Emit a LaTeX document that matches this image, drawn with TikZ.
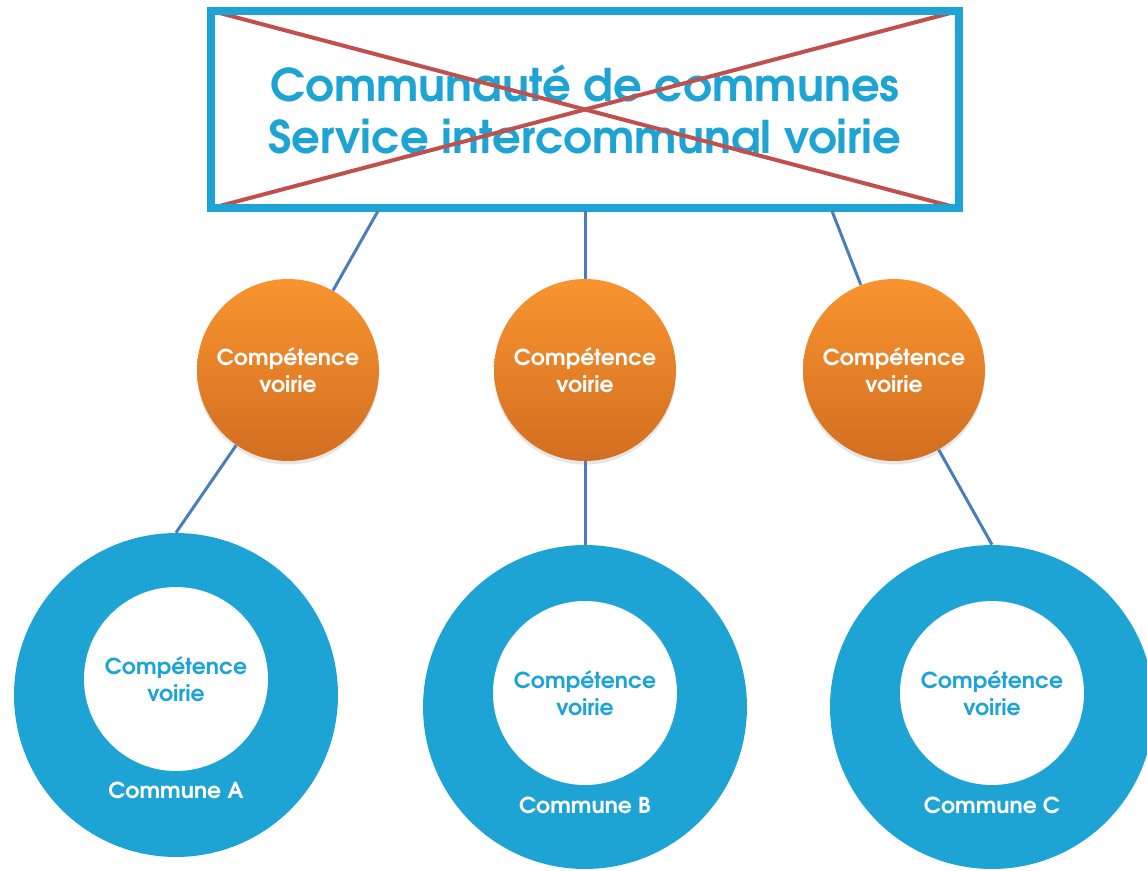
\documentclass[tikz,border=0pt]{standalone}
\usepackage{fontspec}
\setmainfont{TeX Gyre Adventor}
\usepackage{tikz}
\usepackage{xcolor}
\usetikzlibrary{shapes.geometric, shadows, positioning}
\definecolor{voirieblue}{RGB}{29,164,212}
\definecolor{crossred}{RGB}{192,80,77}
\definecolor{linkblue}{RGB}{74,126,187}
\definecolor{orangetop}{RGB}{249,148,48}
\definecolor{orangebot}{RGB}{210,110,32}
\tikzstyle{titlebox} = [rectangle, 
minimum width=14.96cm, 
minimum height=3.94cm, inner sep=0pt, 
align=center, text=voirieblue, 
font=\fontsize{25.6}{29.6}\selectfont\bfseries]
\tikzstyle{frame} = [draw=voirieblue, line width=0.16cm]
\tikzstyle{cross} = [draw=crossred, line width=0.08cm]
\tikzstyle{skill} = [circle, minimum size=3.64cm, inner sep=0pt,
top color=orangetop, bottom color=orangebot,
drop shadow={shadow xshift=0pt, shadow yshift=-2pt, opacity=0.2},
text=white, align=center, font=\fontsize{12.5}{15.4}\selectfont\bfseries]
\tikzstyle{ring} = [circle, minimum size=6.48cm, inner sep=0pt, fill=voirieblue]
\tikzstyle{hole} = [circle, minimum size=3.68cm, inner sep=0pt, fill=white,
text=voirieblue, align=center, font=\fontsize{12.5}{15.4}\selectfont\bfseries]
\tikzstyle{commune} = [text=white, font=\fontsize{12.5}{15.4}\selectfont\bfseries]
\tikzstyle{connector} = [draw=linkblue, line width=0.06cm]

\begin{document}
\begin{tikzpicture}[x=0.02cm, y=-0.02cm]
        \useasboundingbox (0,0) rectangle (1147,870);
        % crossed-out top box
        \node[titlebox] (cdc) at (585,109.5) {Communauté de communes\\Service intercommunal voirie};
        \draw[cross] (cdc.north west) -- (cdc.south east);
        \draw[cross] (cdc.south west) -- (cdc.north east);
        \draw[frame] (cdc.north west) rectangle (cdc.south east);
        \coordinate (tA) at (378,211);
        \coordinate (tB) at (585,211);
        \coordinate (tC) at (832,211);
        % competences
        \node[skill] (skA) at (288,370) {Compétence\\voirie};
        \node[skill] (skB) at (585,370) {Compétence\\voirie};
        \node[skill] (skC) at (894,370) {Compétence\\voirie};
        % communes
        \node[ring] (ringA) at (176,695) {};
        \node[ring] (ringB) at (585,707) {};
        \node[ring] (ringC) at (992,707) {};
        \node[hole] (holeA) at (176,679) {Compétence\\voirie};
        \node[hole] (holeB) at (585,693) {Compétence\\voirie};
        \node[hole] (holeC) at (992,693) {Compétence\\voirie};
        \node[commune] (nameA) at (176,790) {Commune A};
        \node[commune] (nameB) at (585,805) {Commune B};
        \node[commune] (nameC) at (992,805) {Commune C};
        % links
        \draw[connector] (tA) -- (skA);
        \draw[connector] (tB) -- (skB);
        \draw[connector] (tC) -- (skC);
        \draw[connector] (skA) -- (ringA.north);
        \draw[connector] (skB) -- (ringB.north);
        \draw[connector] (skC) -- (ringC.north);
    \end{tikzpicture}
\end{document}
